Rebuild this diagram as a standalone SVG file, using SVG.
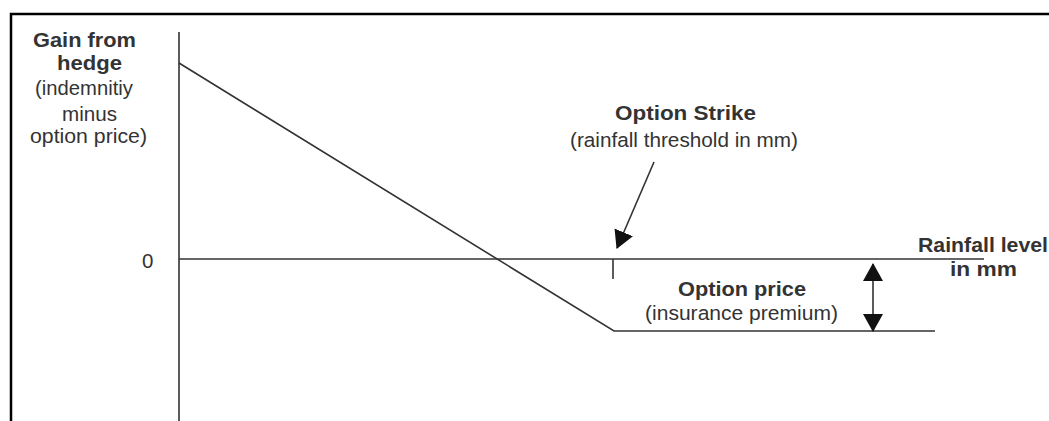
<svg xmlns="http://www.w3.org/2000/svg" width="1049" height="421" viewBox="0 0 1049 421">
<style>
.ln{stroke:#333;stroke-width:1.6;fill:none}
.frame{stroke:#000;stroke-width:2.5;fill:none}
.t{font-family:"Liberation Sans",Arial,sans-serif;font-size:20.5px;fill:#333}
.b{font-weight:bold}
</style>
<defs>
<marker id="ah" viewBox="0 0 18 20" refX="17" refY="10" markerWidth="18" markerHeight="20" markerUnits="userSpaceOnUse" orient="auto-start-reverse">
<path d="M0,0 L18,10 L0,20 Z" fill="#111"/>
</marker>
</defs>
<rect width="1049" height="421" fill="#fff"/>
<g id="frame">
<path class="frame" d="M11,421 V14 H1049"/>
</g>
<g id="axes">
<line class="ln" x1="179" y1="32" x2="179" y2="421"/>
<line class="ln" x1="179" y1="259" x2="984" y2="259"/>
<line class="ln" x1="613" y1="259" x2="613" y2="279"/>
</g>
<g id="payoff">
<polyline class="ln" points="179,63 614,331 935,331"/>
</g>
<g id="connectors">
<line class="ln" x1="654" y1="162" x2="617" y2="248" marker-end="url(#ah)"/>
<line class="ln" x1="873" y1="264" x2="873" y2="331" marker-start="url(#ah)" marker-end="url(#ah)"/>
</g>
<g id="label-y">
<text class="t b" x="33" y="47" textLength="103" lengthAdjust="spacingAndGlyphs">Gain from</text>
<text class="t b" x="57" y="70" textLength="65" lengthAdjust="spacingAndGlyphs">hedge</text>
<text class="t" x="35" y="95" textLength="98" lengthAdjust="spacingAndGlyphs">(indemnitiy</text>
<text class="t" x="62" y="121" textLength="55" lengthAdjust="spacingAndGlyphs">minus</text>
<text class="t" x="30" y="143" textLength="117" lengthAdjust="spacingAndGlyphs">option price)</text>
</g>
<g id="label-zero">
<text class="t" x="142" y="268">0</text>
</g>
<g id="label-strike">
<text class="t b" x="615" y="120" textLength="141" lengthAdjust="spacingAndGlyphs">Option Strike</text>
<text class="t" x="570" y="147" textLength="228" lengthAdjust="spacingAndGlyphs">(rainfall threshold in mm)</text>
</g>
<g id="label-x">
<text class="t b" x="918" y="252" textLength="130" lengthAdjust="spacingAndGlyphs">Rainfall level</text>
<text class="t b" x="950" y="276" textLength="67" lengthAdjust="spacingAndGlyphs">in mm</text>
</g>
<g id="label-price">
<text class="t b" x="678" y="296" textLength="128" lengthAdjust="spacingAndGlyphs">Option price</text>
<text class="t" x="645" y="320" textLength="193" lengthAdjust="spacingAndGlyphs">(insurance premium)</text>
</g>
</svg>
